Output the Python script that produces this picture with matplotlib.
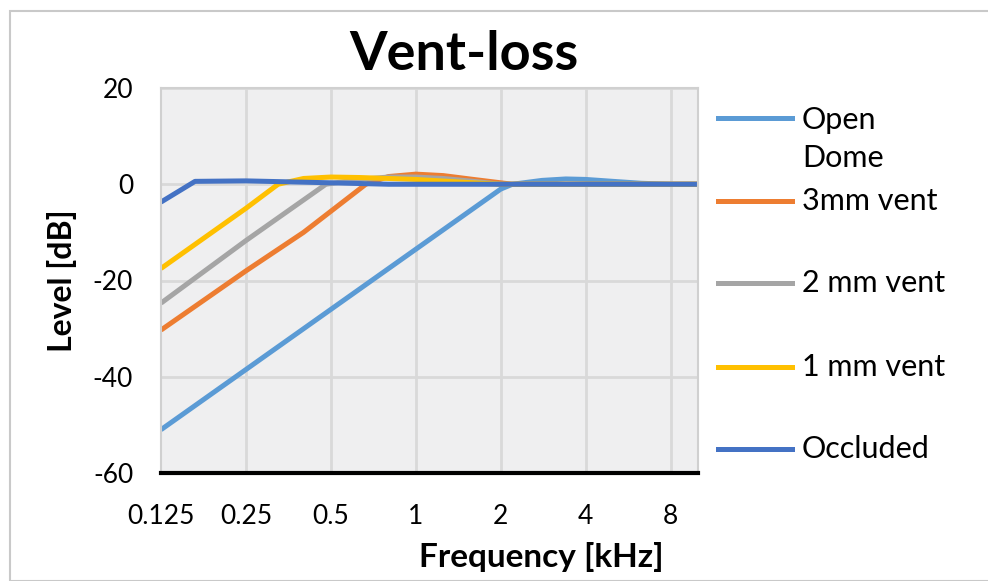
import matplotlib
matplotlib.use("Agg")
import matplotlib.pyplot as plt
from matplotlib.lines import Line2D
from matplotlib.patches import Rectangle

plt.rcParams['font.family'] = ['Lato', 'DejaVu Sans']
plt.rcParams['axes.unicode_minus'] = False

tick_freqs = [0.125, 0.25, 0.5, 1, 2, 4, 8]
tick_labels = ['0.125', '0.25', '0.5', '1', '2', '4', '8']

# values (kHz, dB)
open_f = [0.125, 0.25, 0.5, 1, 2, 2.2, 2.8, 3.4, 4, 5, 6.3, 8, 10]
open_v = [-51, -38.5, -26, -13.5, -1, 0, 0.8, 1.1, 1.0, 0.6, 0.2, 0, 0]

vent3_f = [0.125, 0.25, 0.4, 0.665, 0.8, 1, 1.25, 1.6, 2.2, 10]
vent3_v = [-30.3, -18, -10, 0, 1.6, 2.1, 1.8, 1.0, 0, 0]

vent2_f = [0.125, 0.25, 0.48, 0.63, 0.8, 1, 1.25, 1.6, 2, 10]
vent2_v = [-24.7, -11.7, 0, 1.0, 1.5, 1.5, 1.2, 0.6, 0, 0]

vent1_f = [0.125, 0.25, 0.325, 0.4, 0.5, 0.63, 0.8, 1, 1.6, 2, 10]
vent1_v = [-17.5, -5, 0, 1.2, 1.5, 1.4, 1.2, 1.0, 0.3, 0, 0]

occl_f = [0.125, 0.165, 0.25, 0.5, 0.8, 1, 10]
occl_v = [-3.7, 0.6, 0.7, 0.3, 0, 0, 0]

series = [
    ('Open\nDome', open_f, open_v, '#5B9BD5'),
    ('3mm vent', vent3_f, vent3_v, '#ED7D31'),
    ('2 mm vent', vent2_f, vent2_v, '#A5A5A5'),
    ('1 mm vent', vent1_f, vent1_v, '#FFC000'),
    ('Occluded', occl_f, occl_v, '#4472C4'),
]

W, H = 988, 581
fig = plt.figure(figsize=(W / 100, H / 100), dpi=100)
fig.patches.append(Rectangle((10 / W, 0), 1, 1 - 11 / H, transform=fig.transFigure,
                             fill=False, edgecolor='#C9C9C9', linewidth=1.5))

ax = fig.add_axes([161 / W, 1 - 473 / H, (698 - 161) / W, (473 - 88) / H])
ax.set_facecolor('#EFEFF0')

for name, f, v, c in series:
    ax.plot(f, v, color=c, linewidth=3.6, solid_capstyle='butt', solid_joinstyle='round')

ax.set_xscale('log')
ax.set_xlim(0.125, 10)
ax.set_ylim(-60, 20)
ax.set_xticks(tick_freqs)
ax.set_xticklabels(tick_labels)
ax.minorticks_off()
ax.set_yticks([-60, -40, -20, 0, 20])
ax.tick_params(length=0, labelsize=19)
ax.tick_params(axis='x', pad=22)
ax.tick_params(axis='y', pad=20)
ax.grid(True, color='#D9D9D9', linewidth=2)
ax.set_axisbelow(True)
for s in ['top', 'left', 'right']:
    ax.spines[s].set_color('#D0D0D0')
    ax.spines[s].set_linewidth(1.5)
ax.spines['bottom'].set_color('black')
ax.spines['bottom'].set_linewidth(3)
# the first gridline sits on the left border
ax.get_xgridlines()[0].set_visible(False)

fig.text(464 / W, 1 - 55 / H, 'Vent-loss', ha='center', va='center',
         fontsize=39, fontweight='bold')
fig.text(541 / W, 1 - 557 / H, 'Frequency [kHz]', ha='center', va='center',
         fontsize=24, fontweight='bold')
fig.text(62 / W, 1 - 281 / H, 'Level [dB]', ha='center', va='center',
         fontsize=23, fontweight='bold', rotation=90)

# legend
leg_y = [118, 201, 283, 367, 449]
for (name, f, v, c), y in zip(series, leg_y):
    fig.add_artist(Line2D([718 / W, 792 / W], [1 - y / H, 1 - y / H], color=c,
                          linewidth=3.6, transform=fig.transFigure))
    if '\n' in name:
        fig.text(802 / W, 1 - (y + 21) / H, name, ha='left', va='center',
                 fontsize=22, linespacing=1.45)
    else:
        fig.text(802 / W, 1 - y / H, name, ha='left', va='center', fontsize=22)

fig.savefig('out.png', dpi=100)
